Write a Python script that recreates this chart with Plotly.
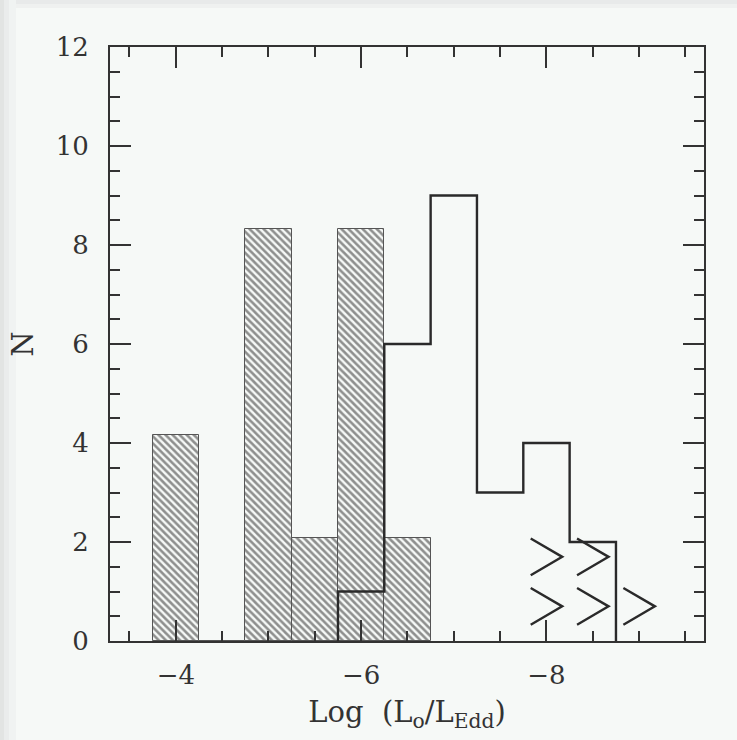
import plotly.graph_objects as go

# ---- data ----
bin_centers = [-4.0, -4.5, -5.0, -5.5, -6.0, -6.5]
hatched_counts = [4.17, 0.0, 8.33, 2.08, 8.33, 2.08]

open_centers = [-6.0, -6.5, -7.0, -7.5, -8.0, -8.5]
open_counts = [1, 6, 9, 3, 4, 2]

limit_x = [-8.0, -8.5, -8.0, -8.5, -9.0]
limit_y = [1.7, 1.7, 0.7, 0.7, 0.7]

x_tickvals = [-4, -6, -8]
y_tickvals = [0, 2, 4, 6, 8, 10, 12]

BIN_W = 0.5
BG = "#f6f9f7"
INK = "#2a2a2a"
FONT = "DejaVu Serif"
W, H = 737, 740
ML, MR, MT, MB = 110, 33, 47, 99

fig = go.Figure()

# hatched histogram
fig.add_trace(go.Bar(
    x=bin_centers, y=hatched_counts, width=BIN_W,
    marker=dict(
        color=BG,
        line=dict(color="#555555", width=1),
        pattern=dict(shape="\\", size=5, solidity=0.52, fgcolor="#262626", bgcolor=BG),
    ),
    showlegend=False, hoverinfo="skip",
))

# open histogram (step outline) built from bin edges
left_edges = [c + BIN_W / 2 for c in open_centers]
right_last = open_centers[-1] - BIN_W / 2
step_x = [left_edges[0]] + left_edges + [right_last]
step_y = [0] + list(open_counts) + [0]
fig.add_trace(go.Scatter(
    x=step_x, y=step_y, mode="lines",
    line=dict(color=INK, width=2.4, shape="hv"),
    showlegend=False, hoverinfo="skip",
))

# limit markers ">" (chevrons around each limit position)
HW, HH = 0.17, 0.37
cx, cy = [], []
for x0, y0 in zip(limit_x, limit_y):
    cx += [x0 + HW, x0 - HW, x0 + HW, None]
    cy += [y0 + HH, y0, y0 - HH, None]
fig.add_trace(go.Scatter(
    x=cx, y=cy, mode="lines",
    line=dict(color=INK, width=2.4),
    showlegend=False, hoverinfo="skip",
))

axis_common = dict(
    showline=True, linecolor="#333333", linewidth=2, mirror="allticks",
    ticks="inside", ticklen=21, tickwidth=1.5, tickcolor="#333333",
    showgrid=False, zeroline=False, automargin=False,
    tickfont=dict(family=FONT, size=26, color="#333333"),
)

fig.update_xaxes(
    range=[-3.29, -9.7], tickmode="array", tickvals=x_tickvals,
    minor=dict(dtick=0.5, ticks="inside", ticklen=10, tickwidth=1.5, tickcolor="#333333", showgrid=False),
    ticklabelstandoff=10,
    title=dict(text="Log  (L<sub>o</sub>/L<sub>Edd</sub>)", font=dict(family=FONT, size=29, color="#333333"), standoff=12),
    **axis_common,
)
fig.update_yaxes(
    range=[0, 12], tickmode="array", tickvals=y_tickvals,
    minor=dict(dtick=0.5, ticks="inside", ticklen=10, tickwidth=1.5, tickcolor="#333333", showgrid=False),
    ticklabelstandoff=14,
    title=dict(text="N", font=dict(family=FONT, size=29, color="#333333"), standoff=14),
    **axis_common,
)

# faint grey frame at the top and left edges of the page (decoration)
pw, ph = W - ML - MR, H - MT - MB
def px_x(p):
    return (p - ML) / pw
def px_y(p):
    return (H - MB - p) / ph
edge_shapes = []
for (a, b, col) in [(0, 4, "#e2e4e3"), (4, 9, "#eaecec"), (9, 16, "#f0f3f2")]:
    edge_shapes.append(dict(type="rect", xref="paper", yref="paper", layer="below",
                            x0=px_x(a), x1=px_x(b), y0=px_y(H), y1=px_y(0),
                            fillcolor=col, line=dict(width=0)))
for (a, b, col) in [(0, 4, "#e8eaea"), (4, 8, "#eff1f0")]:
    edge_shapes.append(dict(type="rect", xref="paper", yref="paper", layer="below",
                            x0=px_x(16), x1=px_x(W), y0=px_y(b), y1=px_y(a),
                            fillcolor=col, line=dict(width=0)))

fig.update_layout(
    width=W, height=H,
    margin=dict(l=ML, r=MR, t=MT, b=MB),
    paper_bgcolor=BG, plot_bgcolor=BG,
    bargap=0,
    shapes=edge_shapes,
)

fig.write_html(
    "out.html",
    config={"displayModeBar": False},
    post_script="document.body.style.margin='0';document.body.style.overflow='hidden';"
                "document.body.style.background='" + BG + "';",
)
